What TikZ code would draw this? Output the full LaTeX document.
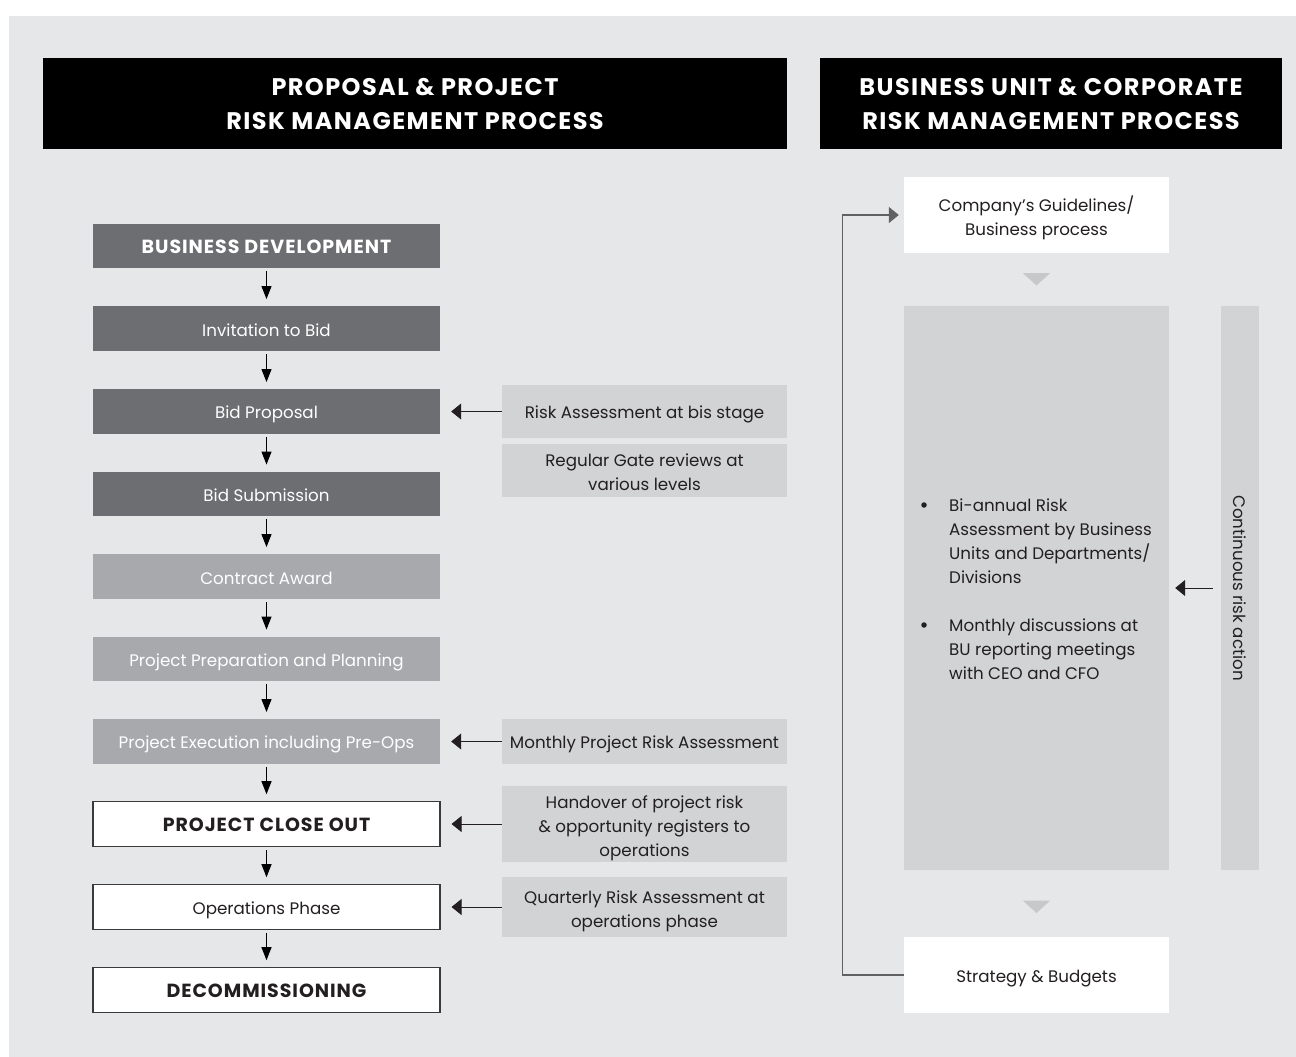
\documentclass[tikz,border=0pt]{standalone}
\usepackage{fontspec}
\setmainfont{Poppins}
\usetikzlibrary{arrows.meta}
\definecolor{pagegray}{HTML}{E6E7E8}
\definecolor{boxdark}{HTML}{6D6E71}
\definecolor{boxmid}{HTML}{A7A9AC}
\definecolor{boxlight}{HTML}{D1D3D4}
\definecolor{trigray}{HTML}{C7C8CA}
\definecolor{ink}{HTML}{231F20}
\definecolor{linedark}{HTML}{3A3A3A}
\newcommand\bodyfont{\fontsize{16.7}{24}\selectfont}
\newcommand\capsfont{\fontsize{19}{24}\selectfont\bfseries\addfontfeatures{LetterSpace=5}}
\newcommand\headfont{\fontsize{24}{34}\selectfont\bfseries\addfontfeatures{LetterSpace=6}}
% fixed first-line height and last-line depth so box texts sit on a common baseline
\newcommand\boxtop{\rule{0pt}{19pt}}
\newcommand\boxbottom{\rule[-4pt]{0pt}{4pt}}
\begin{document}
\begin{tikzpicture}[x=1pt,y=-1pt,
  textbox/.style={inner sep=0pt,align=center,execute at begin node=\boxtop,execute at end node=\boxbottom},
  twolines/.style={text height=42pt,text depth=2pt},
  threelines/.style={text height=67pt,text depth=2pt},
  stagebox/.style={textbox,minimum width=347pt,minimum height=44.5pt,font=\bodyfont},
  darkbox/.style={stagebox,fill=boxdark,text=white},
  midbox/.style={stagebox,fill=boxmid,text=white},
  whitebox/.style={stagebox,fill=white,draw=linedark,line width=1.1pt,text=ink},
  notebox/.style={textbox,minimum width=285pt,fill=boxlight,font=\bodyfont,text=ink},
  sidebox/.style={textbox,minimum width=265pt,font=\bodyfont,text=ink},
  header/.style={fill=black,text=white,inner sep=0pt,align=center,font=\headfont,minimum height=91pt},
  dot/.style={circle,fill=ink,inner sep=0pt,minimum size=5.5pt},
  varrow/.style={draw=black,line width=0.9pt,-{Triangle[length=13pt,width=10pt]},shorten <=3pt,shorten >=7pt},
  harrow/.style={draw=ink,line width=0.9pt,-{Triangle[length=10pt,width=16pt]}},
  looparrow/.style={draw=linedark!80,line width=1.2pt,-{Triangle[length=10pt,width=16pt]}},
  ]
\useasboundingbox (0,0) rectangle (1296,1057);
\fill[white] (0,0) rectangle (1296,1057);
\fill[pagegray] (9,16) rectangle (1296,1057);

% column headers
\node[header,minimum width=744pt] (hleft) at (415,103.5) {PROPOSAL \& PROJECT\\RISK MANAGEMENT PROCESS};
\node[header,minimum width=462pt] (hright) at (1051,103.5) {BUSINESS UNIT \& CORPORATE\\RISK MANAGEMENT PROCESS};

% project stages
\node[darkbox,font=\capsfont] (s1) at (266.5,246) {BUSINESS DEVELOPMENT};
\node[darkbox] (s2) at (266.5,328.5) {Invitation to Bid};
\node[darkbox] (s3) at (266.5,411.5) {Bid Proposal};
\node[darkbox] (s4) at (266.5,494) {Bid Submission};
\node[midbox] (s5) at (266.5,576.5) {Contract Award};
\node[midbox] (s6) at (266.5,659) {Project Preparation and Planning};
\node[midbox] (s7) at (266.5,741.5) {Project Execution including Pre-Ops};
\node[whitebox,font=\capsfont] (s8) at (266.5,824) {PROJECT CLOSE OUT};
\node[whitebox] (s9) at (266.5,907) {Operations Phase};
\node[whitebox,font=\capsfont] (s10) at (266.5,990) {DECOMMISSIONING};

\foreach \a/\b in {s1/s2,s2/s3,s3/s4,s4/s5,s5/s6,s6/s7,s7/s8,s8/s9,s9/s10}
  \draw[varrow] (\a.south) -- (\b.north);

% risk activities feeding the stages
\node[notebox,minimum height=52.7pt] (r1) at (644.5,411.5) {Risk Assessment at bis stage};
\node[notebox,twolines,minimum height=52.7pt] (r2) at (644.5,470.3) {Regular Gate reviews at\\various levels};
\node[notebox,minimum height=44.7pt] (r3) at (644.5,741.5) {Monthly Project Risk Assessment};
\node[notebox,threelines,minimum height=75.4pt] (r4) at (644.5,824) {Handover of project risk\\\& opportunity registers to\\operations};
\node[notebox,twolines,minimum height=60.4pt] (r5) at (644.5,907) {Quarterly Risk Assessment at\\operations phase};

\draw[harrow,shorten >=11pt] (r1.west) -- (s3.east);
\draw[harrow,shorten >=11pt] (r3.west) -- (s7.east);
\draw[harrow,shorten >=11pt] (r4.west) -- (s8.east);
\draw[harrow,shorten >=11pt] (r5.west) -- (s9.east);

% business unit cycle
\node[sidebox,twolines,fill=white,minimum height=75.7pt] (guide) at (1036.5,215) {Company’s Guidelines/\\Business process};
\node[sidebox,fill=boxlight,minimum height=564pt] (assess) at (1036.5,588) {};
\node[sidebox,fill=white,minimum height=75.7pt] (budget) at (1036.5,975) {Strategy \& Budgets};
\node[fill=boxlight,minimum width=37.7pt,minimum height=564pt,inner sep=0pt] (bar) at (1240,588) {};
\node[rotate=-90,font=\bodyfont,text=ink,inner sep=0pt] (barlabel) at (bar.center) {Continuous risk action};

\fill[trigray] (1022.7,273) -- (1050.3,273) -- (1036.5,285.5) -- cycle;
\fill[trigray] (1022.7,900.5) -- (1050.3,900.5) -- (1036.5,913) -- cycle;

\node[dot] (b1) at (924,505) {};
\node[dot] (b2) at (924,625) {};
\node[font=\bodyfont,text=ink,inner sep=0pt,align=left,anchor=west] (points) at (949,589.5)
  {Bi-annual Risk\\Assessment by Business\\Units and Departments/\\Divisions\\[24pt]Monthly discussions at\\BU reporting meetings\\with CEO and CFO};

\draw[harrow,shorten <=8pt,shorten >=6pt] (bar.west) -- (assess.east);

\coordinate (loopcorner) at (842.3,975);
\draw[looparrow,shorten >=5pt] (budget.west) -- (loopcorner) |- (guide.west);
\end{tikzpicture}
\end{document}
